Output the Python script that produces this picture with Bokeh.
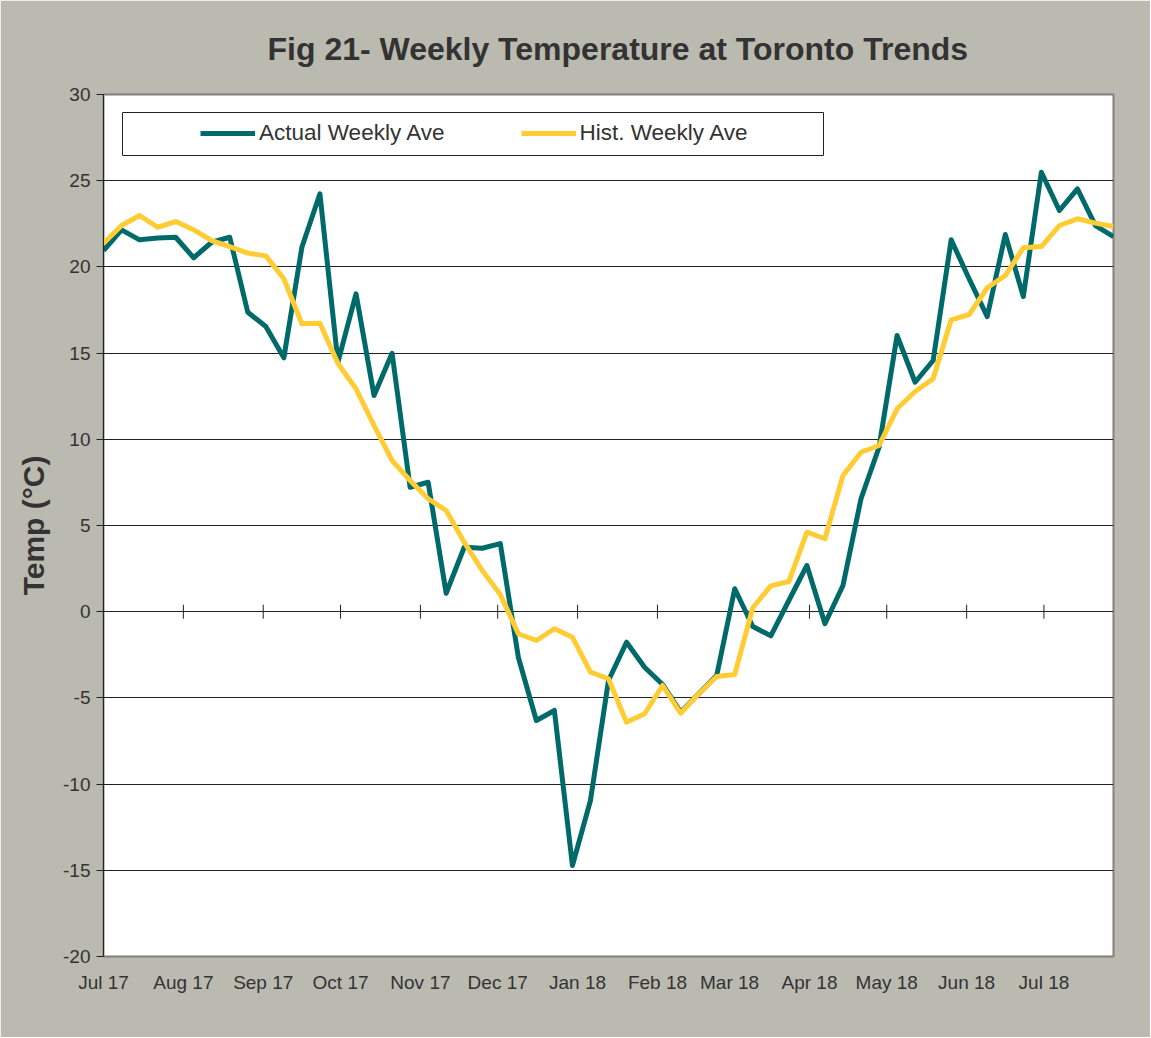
import numpy as np
import pandas as pd
from bokeh.plotting import figure
from bokeh.models import (Range1d, FixedTicker, DatetimeTickFormatter, Legend,
                          LegendItem, BoxAnnotation, ColumnDataSource)
from bokeh.embed import file_html
from bokeh.resources import INLINE

# ---------------- data ----------------
week_start = "2017-07-01"

actual = [20.95, 22.15, 21.57, 21.67, 21.72, 20.53, 21.43, 21.72, 17.37, 16.54,
          14.73, 21.14, 24.24, 14.47, 18.44, 12.54, 14.99, 7.22, 7.51, 1.07,
          3.74, 3.68, 3.95, -2.64, -6.31, -5.73, -14.72, -10.95, -3.99, -1.77,
          -3.22, -4.22, -5.83, -4.76, -3.70, 1.33, -0.86, -1.40, 0.65, 2.68,
          -0.70, 1.52, 6.55, 9.54, 16.02, 13.31, 14.57, 21.57, 19.30, 17.12,
          21.88, 18.28, 25.49, 23.27, 24.53, 22.40, 21.76]

hist = [21.37, 22.40, 22.98, 22.30, 22.63, 22.15, 21.53, 21.18, 20.80, 20.64,
        19.31, 16.70, 16.73, 14.40, 12.93, 10.80, 8.77, 7.61, 6.55, 5.87,
        4.03, 2.39, 1.00, -1.28, -1.67, -0.99, -1.48, -3.51, -3.89, -6.41,
        -5.92, -4.28, -5.89, -4.76, -3.76, -3.64, 0.23, 1.50, 1.75, 4.61,
        4.23, 7.90, 9.25, 9.64, 11.77, 12.77, 13.51, 16.93, 17.24, 18.79,
        19.50, 21.11, 21.18, 22.40, 22.79, 22.54, 22.34]

month_ticks = ["2017-07-01", "2017-08-01", "2017-09-01", "2017-10-01",
               "2017-11-01", "2017-12-01", "2018-01-01", "2018-02-01",
               "2018-03-01", "2018-04-01", "2018-05-01", "2018-06-01",
               "2018-07-01"]

y_ticks = [-20, -15, -10, -5, 0, 5, 10, 15, 20, 25, 30]

series_names = ["Actual Weekly Ave", "Hist. Weekly Ave"]
title_text = "Fig 21- Weekly Temperature at Toronto Trends"
y_label = "Temp (°C)"

# ---------------- build ----------------
dates = pd.date_range(week_start, periods=len(actual), freq="7D")
src = ColumnDataSource(dict(date=dates, actual=actual, hist=hist))

tick_ms = [pd.Timestamp(d).timestamp() * 1000.0 for d in month_ticks]
tick_src = ColumnDataSource(dict(date=pd.to_datetime(month_ticks[1:]),
                                 zero=[0] * (len(month_ticks) - 1)))

BG = "#BBBAB0"
TXT = "#333333"
FONT = "Liberation Sans"

W, H = 1150, 1037
BL, BR, BT, BB = 103, 37, 94, 81

p = figure(x_axis_type="datetime", frame_width=W - BL - BR,
           frame_height=H - BT - BB,
           min_border_left=BL, min_border_right=BR, min_border_top=BT,
           min_border_bottom=BB, toolbar_location=None, output_backend="svg",
           x_range=Range1d(dates[0], dates[-1]), y_range=Range1d(-20, 30))

p.background_fill_color = "white"
p.border_fill_color = BG
p.outline_line_color = "#808080"
p.outline_line_width = 2

# title
p.title.text = title_text
p.title.align = "left"
p.title.offset = 164
p.title.standoff = 55
p.title.text_font = FONT
p.title.text_font_size = "32px"
p.title.text_font_style = "bold"
p.title.text_color = TXT

# grid
p.xgrid.grid_line_color = None
p.ygrid.grid_line_color = "#222222"
p.ygrid.grid_line_width = 1
p.ygrid.ticker = FixedTicker(ticks=y_ticks)

# y axis
p.yaxis.ticker = FixedTicker(ticks=y_ticks)
p.yaxis.major_label_overrides = {t: str(t) for t in y_ticks}
p.yaxis.axis_label = y_label
p.yaxis.axis_label_text_font = FONT
p.yaxis.axis_label_text_font_size = "30px"
p.yaxis.axis_label_text_font_style = "bold"
p.yaxis.axis_label_text_color = TXT
p.yaxis.axis_label_standoff = 10
p.yaxis.major_label_text_font = FONT
p.yaxis.major_label_text_font_size = "19px"
p.yaxis.major_label_text_color = TXT
p.yaxis.major_tick_out = 7
p.yaxis.major_tick_in = 0
p.yaxis.minor_tick_line_color = None
p.yaxis.axis_line_color = "#222222"
p.yaxis.major_tick_line_color = "#222222"
p.yaxis.major_label_standoff = 6

# x axis
p.xaxis.ticker = FixedTicker(ticks=tick_ms)
fmt = "%b %y"
p.xaxis.formatter = DatetimeTickFormatter(
    milliseconds=fmt, seconds=fmt, minsec=fmt, minutes=fmt, hourmin=fmt,
    hours=fmt, days=fmt, months=fmt, years=fmt)
p.xaxis.major_label_text_font = FONT
p.xaxis.major_label_text_font_size = "19px"
p.xaxis.major_label_text_color = TXT
p.xaxis.axis_line_color = None
p.xaxis.major_tick_line_color = None
p.xaxis.minor_tick_line_color = None
p.xaxis.major_label_standoff = 9

# tick marks drawn on the zero line
p.scatter(x="date", y="zero", source=tick_src, marker="dash", angle=np.pi / 2,
          size=14, line_color="#222222", line_width=1)

# series
r1 = p.line(x="date", y="actual", source=src, line_color="#006A6A",
            line_width=5, line_join="round")
r2 = p.line(x="date", y="hist", source=src, line_color="#FFCC33",
            line_width=5, line_join="round")

# legend box + legend
box = BoxAnnotation(left=19, right=720, bottom=801, top=844,
                    left_units="screen", right_units="screen",
                    top_units="screen", bottom_units="screen",
                    fill_color="white", fill_alpha=1.0,
                    line_color="#222222", line_width=1, line_alpha=1.0)
p.add_layout(box)

legend = Legend(items=[LegendItem(label=series_names[0], renderers=[r1]),
                       LegendItem(label=series_names[1], renderers=[r2])],
                orientation="horizontal", location=(97, 810), padding=0,
                spacing=76, glyph_width=55, glyph_height=20, label_height=20,
                label_standoff=4, margin=0,
                label_text_font=FONT, label_text_font_size="22.5px",
                label_text_color=TXT, border_line_alpha=0,
                background_fill_alpha=0)
p.add_layout(legend)

# thin outer border of the chart
outer = BoxAnnotation(left=1, right=W - 1, top=1, bottom=H - 1,
                      left_units="canvas", right_units="canvas",
                      top_units="canvas", bottom_units="canvas",
                      fill_alpha=0, line_color="#333333", line_width=1,
                      line_alpha=1.0)
p.add_layout(outer)

open("out.html", "w").write(file_html(p, INLINE))
